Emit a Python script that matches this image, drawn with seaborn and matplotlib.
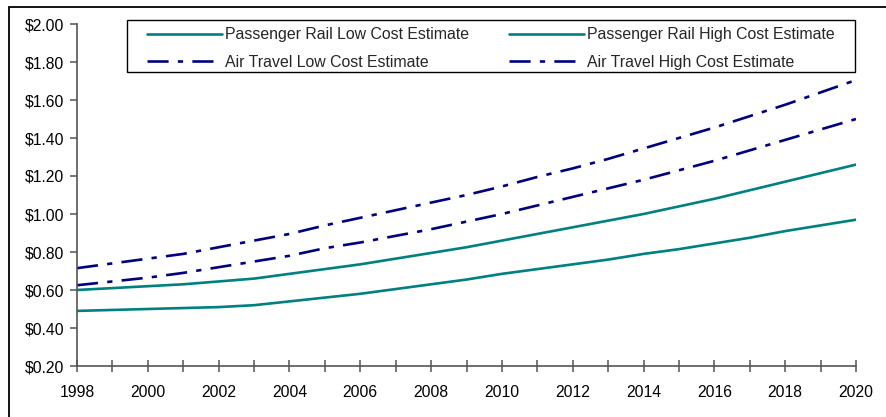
import matplotlib
matplotlib.use("Agg")
import matplotlib.pyplot as plt
import matplotlib.ticker as mticker
from matplotlib.patches import Rectangle
import seaborn as sns
import pandas as pd

years = list(range(1998, 2021))
rail_low = [0.49, 0.495, 0.50, 0.505, 0.51, 0.52, 0.54, 0.56, 0.58, 0.605, 0.63, 0.655,
            0.685, 0.71, 0.735, 0.76, 0.79, 0.815, 0.845, 0.875, 0.91, 0.94, 0.97]
rail_high = [0.60, 0.61, 0.62, 0.63, 0.645, 0.66, 0.685, 0.71, 0.735, 0.765, 0.795, 0.825,
             0.86, 0.895, 0.93, 0.965, 1.00, 1.04, 1.08, 1.125, 1.17, 1.215, 1.26]
air_low = [0.625, 0.645, 0.665, 0.69, 0.72, 0.75, 0.78, 0.82, 0.85, 0.885, 0.92, 0.96,
           1.00, 1.045, 1.09, 1.135, 1.18, 1.23, 1.28, 1.335, 1.39, 1.445, 1.50]
air_high = [0.715, 0.74, 0.765, 0.79, 0.825, 0.86, 0.895, 0.94, 0.98, 1.02, 1.06, 1.10,
            1.145, 1.195, 1.24, 1.29, 1.345, 1.40, 1.455, 1.515, 1.575, 1.64, 1.705]

series_labels = ["Passenger Rail Low Cost Estimate", "Air Travel Low Cost Estimate",
                 "Passenger Rail High Cost Estimate", "Air Travel High Cost Estimate"]
series_values = [rail_low, air_low, rail_high, air_high]
series_colors = ["#008080", "#000080", "#008080", "#000080"]
series_dashed = [False, True, False, True]

sns.set_style("white")
plt.rcParams["font.family"] = ["Liberation Sans", "DejaVu Sans"]

W, H = 886, 417
fig = plt.figure(figsize=(W / 100, H / 100), dpi=100)
ax = fig.add_axes([77 / W, 1 - 366 / H, (856 - 77) / W, (366 - 24) / H])

# outer frame of the chart area
fig.patches.append(Rectangle((8.5 / W, -0.2), 1.2, 1 - 7 / H + 0.2,
                             transform=fig.transFigure, fill=False,
                             edgecolor="black", linewidth=1.3, zorder=-1))

handles = []
for lab, vals, col, dashed in zip(series_labels, series_values, series_colors, series_dashed):
    df = pd.DataFrame({"year": years, "value": vals})
    sns.lineplot(data=df, x="year", y="value", ax=ax, color=col, linewidth=1.9,
                 label=lab, legend=False)
    line = ax.lines[-1]
    if dashed:
        line.set_dashes((8, 3.5, 2, 3.5))
    handles.append(line)

ax.set_xlim(1998, 2020)
ax.set_ylim(0.2, 2.0)
ax.set_xlabel("")
ax.set_ylabel("")
ax.xaxis.set_major_locator(mticker.MultipleLocator(2))
ax.xaxis.set_minor_locator(mticker.MultipleLocator(1))
ax.yaxis.set_major_locator(mticker.MultipleLocator(0.2))
ax.yaxis.set_major_formatter(mticker.FuncFormatter(lambda v, p: f"${v:.2f}"))

for s in ["top", "right"]:
    ax.spines[s].set_visible(False)
for s in ["left", "bottom"]:
    ax.spines[s].set_color("#555555")
    ax.spines[s].set_linewidth(1.2)

ax.tick_params(axis="x", which="both", direction="inout", length=8, width=1.1,
               color="#555555", bottom=True, labelsize=11.3, pad=10, labelcolor="black")
ax.tick_params(axis="y", which="major", direction="out", length=5, width=1.1,
               color="#555555", left=True, labelsize=11.3, pad=4, labelcolor="black")

# legend box (drawn separately) and legend entries
fig.patches.append(Rectangle((127 / W, 1 - 72 / H), (855 - 127) / W, (72 - 20) / H,
                             transform=fig.transFigure, facecolor="white",
                             edgecolor="black", linewidth=1.0, zorder=5))
leg = fig.legend(handles=handles, labels=series_labels, ncol=2,
                 loc="upper left", bbox_to_anchor=(147 / W, 1 - 27.5 / H),
                 bbox_transform=fig.transFigure,
                 fontsize=11.4, handlelength=4.75, handletextpad=0.2,
                 labelspacing=0.78, borderpad=0, borderaxespad=0,
                 frameon=False, columnspacing=2.5)
leg.set_zorder(6)

fig.savefig("out.png", dpi=100)
